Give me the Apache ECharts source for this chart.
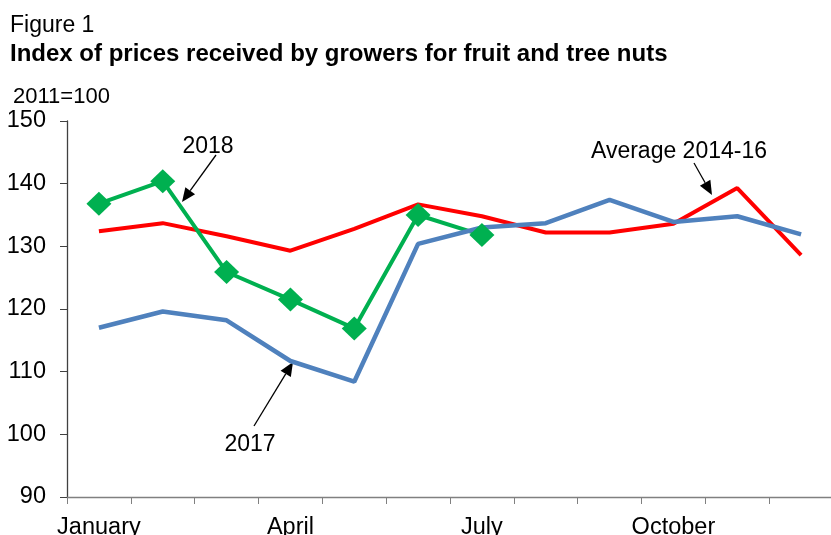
<!DOCTYPE html>
<html>
<head>
<meta charset="utf-8">
<script src="https://cdn.jsdelivr.net/npm/echarts@6/dist/echarts.min.js"></script>
<style>
  html, body { margin: 0; padding: 0; background: #fff; }
  #chart { width: 831px; height: 535px; }
</style>
</head>
<body>
<div id="chart"></div>
<script>
const months = ['January', 'February', 'March', 'April', 'May', 'June',
  'July', 'August', 'September', 'October', 'November', 'December']
const avg1416 = [132.4, 133.7, 131.6, 129.3, 132.8, 136.7, 134.8, 132.2, 132.2, 133.6, 139.3, 128.6]
const y2017 = [117.0, 119.6, 118.2, 111.7, 108.4, 130.4, 133.0, 133.7, 137.4, 133.9, 134.8, 131.9]
const y2018 = [136.8, 140.4, 125.9, 121.5, 116.9, 135.0, 131.8]
const yTicks = [90, 100, 110, 120, 130, 140, 150]

const font = "'Liberation Sans', Arial, sans-serif"
const chart = echarts.init(document.getElementById('chart'))

// little black arrow for the callouts
const arrow = (x1, y1, x2, y2) => {
  const a = Math.atan2(y2 - y1, x2 - x1)
  const len = 14, half = 6
  const bx = x2 - len * Math.cos(a), by = y2 - len * Math.sin(a)
  const px = -Math.sin(a) * half, py = Math.cos(a) * half
  return [
    { type: 'line', shape: { x1, y1, x2: bx, y2: by }, style: { stroke: '#000', lineWidth: 1.3 } },
    { type: 'polygon', shape: { points: [[x2, y2], [bx + px, by + py], [bx - px, by - py]] }, style: { fill: '#000' } }
  ]
}

const label = (text, x, y) => ({
  type: 'text', x, y,
  style: { text, font: '23px ' + font, fill: '#000', align: 'center', verticalAlign: 'middle' }
})

const option = {
  animation: false,
  textStyle: { fontFamily: font },
  grid: { left: 67, top: 121, width: 766, height: 376, containLabel: false, outerBoundsMode: 'none' },
  xAxis: {
    type: 'category',
    data: months,
    boundaryGap: true,
    axisLine: { lineStyle: { color: '#808080', width: 1.3 } },
    axisTick: { show: true, interval: 0, length: 7, lineStyle: { color: '#808080' } },
    axisLabel: {
      interval: 2, margin: 19, color: '#000', fontSize: 23.5, fontFamily: font
    },
    splitLine: { show: false }
  },
  yAxis: {
    type: 'value',
    min: yTicks[0],
    max: yTicks[yTicks.length - 1],
    interval: 10,
    axisLine: { show: true, lineStyle: { color: '#404040', width: 1.3 } },
    axisTick: { show: true, length: 7, lineStyle: { color: '#404040' } },
    axisLabel: { margin: 21, color: '#000', fontSize: 23.5, fontFamily: font },
    splitLine: { show: false }
  },
  series: [
    {
      name: 'Average 2014-16',
      type: 'line',
      data: avg1416,
      symbol: 'none',
      lineStyle: { color: '#ff0000', width: 4 }
    },
    {
      name: '2018',
      type: 'line',
      data: y2018,
      symbol: 'diamond',
      symbolSize: [25, 24],
      itemStyle: { color: '#00b050' },
      lineStyle: { color: '#00b050', width: 4 }
    },
    {
      name: '2017',
      type: 'line',
      data: y2017,
      symbol: 'none',
      lineStyle: { color: '#4f81bd', width: 4.5 }
    }
  ],
  graphic: [
    {
      type: 'text', left: 10, top: 14,
      style: { text: 'Figure 1', font: '23px ' + font, fill: '#000' }
    },
    {
      type: 'text', left: 10, top: 42,
      style: { text: 'Index of prices received by growers for fruit and tree nuts', font: 'bold 24px ' + font, fill: '#000' }
    },
    {
      type: 'text', left: 13, top: 86,
      style: { text: '2011=100', font: '22px ' + font, fill: '#000' }
    },
    label('2018', 208, 147),
    label('2017', 250, 445),
    label('Average 2014-16', 679, 152),
    ...arrow(216, 155, 182, 202),
    ...arrow(254, 426, 293, 362),
    ...arrow(694, 163, 712, 195)
  ]
}

chart.setOption(option)
</script>
</body>
</html>
